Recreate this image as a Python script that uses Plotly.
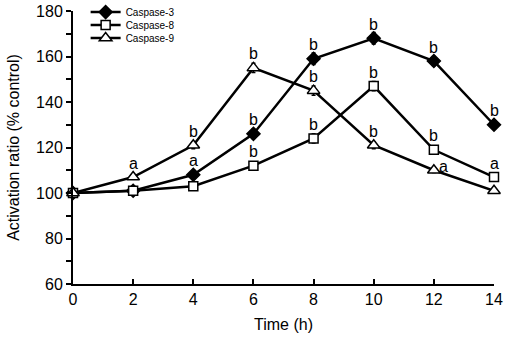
import plotly.graph_objects as go

time_h = [0, 2, 4, 6, 8, 10, 12, 14]
casp3 = [100, 101, 108, 126, 159, 168, 158, 130]
casp3_err = [1, 1, 1.5, 2, 2.5, 2.5, 2, 1.5]
casp8 = [100, 101, 103, 112, 124, 147, 119, 107]
casp8_err = [1, 1, 1, 1.5, 2, 2, 1.5, 1]
casp9 = [100, 107, 121, 155, 145, 121, 110, 101]
casp9_err = [1, 1, 1.5, 2, 2, 1.5, 1, 1]
letters3 = ["", "", "a", "b", "b", "b", "b", "b"]
letters8 = ["", "", "", "b", "b", "b", "b", "a"]
letters9 = ["", "a", "b", "b", "b", "b", "a", ""]

fig = go.Figure()
series = [
    ("Caspase-3", casp3, casp3_err, "diamond", 10, "black", "legend"),
    ("Caspase-8", casp8, casp8_err, "square", 9, "white", "legend2"),
    ("Caspase-9", casp9, casp9_err, "triangle-up", 11, "white", "legend3"),
]
for name, ys, err, sym, sz, fill, lg in series:
    fig.add_trace(go.Scatter(
        x=time_h, y=ys, name=name, mode="lines+markers", legend=lg,
        line=dict(color="black", width=2.5),
        marker=dict(symbol=sym, size=sz, color=fill, line=dict(color="black", width=1.5)),
        error_y=dict(type="data", array=err, color="black", thickness=1.5, width=2),
        cliponaxis=False,
    ))

annos = []
for ys, lets in [(casp3, letters3), (casp8, letters8), (casp9, letters9)]:
    for x, y, l in zip(time_h, ys, lets):
        if not l:
            continue
        xs = 0
        ysft = 14
        if lets is letters9 and x == 12:
            xs, ysft = 10, 4
        annos.append(dict(x=x, y=y, text=l, showarrow=False, xshift=xs, yshift=ysft,
                          font=dict(size=16, color="black", family="Arial, Liberation Sans")))

leg_common = dict(xanchor="left", yanchor="middle", font=dict(size=10),
                  bgcolor="rgba(0,0,0,0)", itemwidth=30, x=0.03)

fig.update_layout(
    width=516, height=340,
    margin=dict(l=73, r=22, t=11, b=56, autoexpand=False),
    paper_bgcolor="white", plot_bgcolor="white",
    font=dict(family="Arial, Liberation Sans", color="black"),
    showlegend=True,
    legend=dict(y=0.996, **leg_common),
    legend2=dict(y=0.949, **leg_common),
    legend3=dict(y=0.901, **leg_common),
    annotations=annos,
    xaxis=dict(range=[0, 14], tickvals=time_h, ticks="inside", ticklen=5,
               tickwidth=1.5, tickcolor="black",
               showline=True, linecolor="black", linewidth=2, showgrid=False, zeroline=False,
               tickfont=dict(size=16), title=dict(text="Time (h)", font=dict(size=16), standoff=12)),
    yaxis=dict(range=[60, 180], tickvals=[60, 80, 100, 120, 140, 160, 180], ticks="outside",
               ticklen=5, tickwidth=1.5, tickcolor="black",
               minor=dict(tickvals=[70, 90, 110, 130, 150, 170], ticks="outside", ticklen=5,
                          tickwidth=1.5, tickcolor="black"),
               showline=True, linecolor="black", linewidth=2, showgrid=False, zeroline=False,
               tickfont=dict(size=16),
               title=dict(text="Activation ratio (% control)", font=dict(size=16), standoff=12)),
)
fig.write_html("out.html")
